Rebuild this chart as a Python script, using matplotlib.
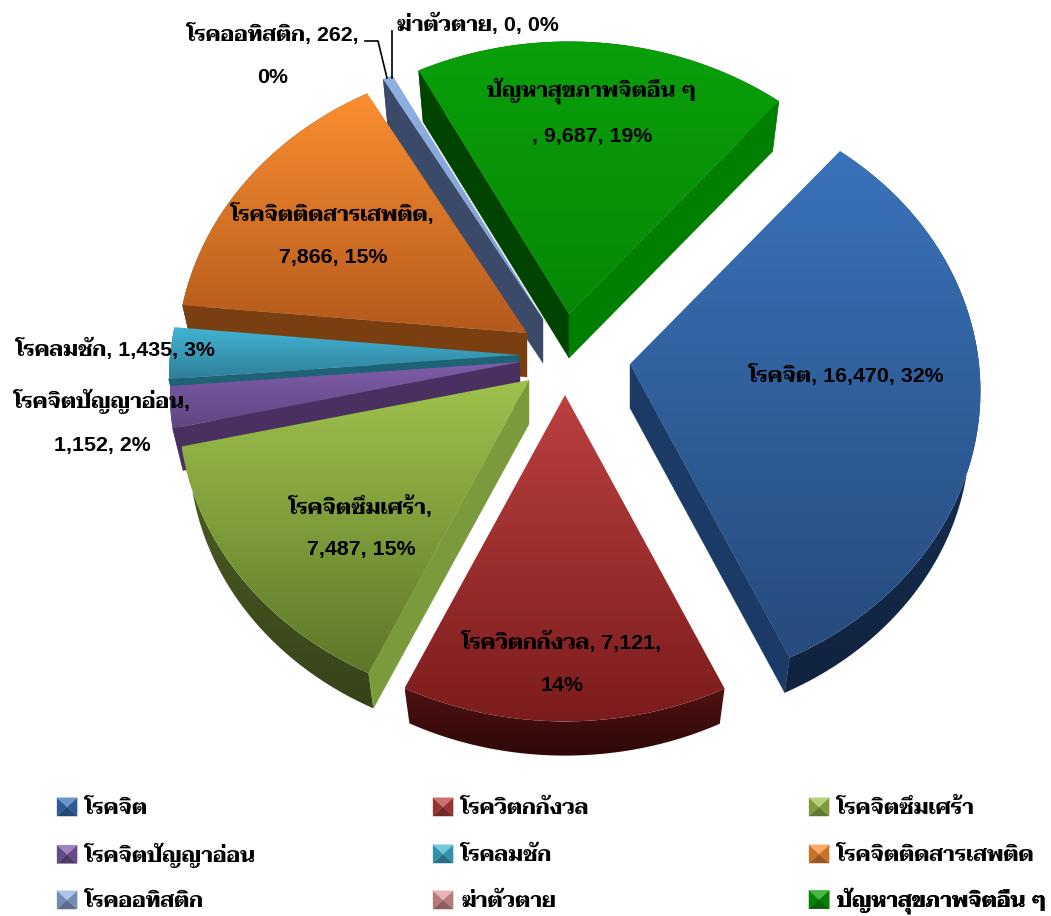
import numpy as np
import matplotlib
matplotlib.use('Agg')
import matplotlib.pyplot as plt
from matplotlib.colors import to_rgb
from matplotlib.patches import Polygon, Patch
from matplotlib.legend_handler import HandlerBase

plt.rcParams['font.family'] = ['Liberation Sans', 'Taviraj', 'Sarabun', 'Noto Sans Thai']

categories = ['โรคจิต', 'โรควิตกกังวล', 'โรคจิตซึมเศร้า', 'โรคจิตปัญญาอ่อน', 'โรคลมชัก',
              'โรคจิตติดสารเสพติด', 'โรคออทิสติก', 'ฆ่าตัวตาย', 'ปัญหาสุขภาพจิตอื่น ๆ']
values = [16470, 7121, 7487, 1152, 1435, 7866, 262, 0, 9687]

W, H = 1051, 916
RX, RY, K = 349.0, 297.0, 0.09
DEPTH, SIGMA = 44.0, 0.97
apex = [(630, 364), (565, 395), (529, 380), (520, 362), (519, 355),
        (527, 333), (543, 319), (543, 319), (569, 314)]
top_hi = ['#3a72ba', '#bb4040', '#9fc24c', '#7f5daa', '#42b4d4', '#fb8e30', '#8fb0e0', '#e09a98', '#0aa00a']
top_lo = ['#264b7c', '#7c1c1c', '#5e7729', '#604682', '#2f7f99', '#b45a1d', '#7f9fd0', '#c08080', '#068806']
side_hi = ['#1c3a66', '#501212', '#4f6024', '#4a3060', '#1d6275', '#7a3f10', '#3a4a68', '#888888', '#004400']
side_lo = ['#10233f', '#2e0808', '#36431a', '#38244a', '#154a58', '#5a2e0c', '#2c3a54', '#666666', '#007f00']
face_start = [None, None, '#7a9a3c', '#4a3060', '#1d6275', '#7a3f10', '#3a4a68', None, '#004400']
face_end = ['#1c3a66', None, None, None, None, None, None, None, '#007f00']
draw_order = [8, 6, 5, 4, 3, 2, 1, 0]

labels = [('โรคจิต, 16,470, 32%', 847, 375),
          ('โรควิตกกังวล, 7,121,\n14%', 562, 663),
          ('โรคจิตซึมเศร้า,\n7,487, 15%', 361, 527),
          ('โรคจิตปัญญาอ่อน,\n1,152, 2%', 102, 422),
          ('โรคลมชัก, 1,435, 3%', 116, 349),
          ('โรคจิตติดสารเสพติด,\n7,866, 15%', 333, 235),
          ('โรคออทิสติก, 262,\n0%', 273, 55),
          ('ฆ่าตัวตาย, 0, 0%', 478, 24),
          ('ปัญหาสุขภาพจิตอื่น ๆ\n, 9,687, 19%', 592, 112)]
FONT = 15.4
LINESP = 2.5
legend_rows = [808, 855, 901]
legend_cols = [57, 433, 809]

fig = plt.figure(figsize=(W / 100, H / 100), dpi=100)
ax = fig.add_axes([0, 0, 1, 1])
wedges, _ = ax.pie(values, startangle=50, counterclock=False)
angles = [(90 - w.theta2, 90 - w.theta1) for w in wedges]
for w in wedges:
    w.remove()


def project(a, th):
    th = np.radians(th)
    f = 1 / (1 + K * np.cos(th))
    return np.column_stack([a[0] + RX * np.sin(th) * f, a[1] - RY * np.cos(th) * f])


def gradient(poly, c0, c1, z):
    xmin, ymin = poly.min(axis=0)
    xmax, ymax = poly.max(axis=0)
    t = np.linspace(0, 1, 256)[:, None, None]
    g = (1 - t) * np.array(to_rgb(c0))[None, None, :] + t * np.array(to_rgb(c1))[None, None, :]
    im = ax.imshow(g, extent=(xmin, xmax, ymax, ymin), origin='upper', aspect='auto',
                   interpolation='bilinear', zorder=z)
    p = Polygon(poly, closed=True, fc='none', ec='none', zorder=z)
    ax.add_patch(p)
    im.set_clip_path(p)


z = 1
for i in draw_order:
    th1, th2 = angles[i]
    if th2 - th1 <= 0:
        continue
    a = np.array(apex[i], float)
    arc = project(a, np.linspace(th1, th2, 240))
    a_b = a + (0, DEPTH)
    arc_b = a_b + SIGMA * (arc - a)
    gradient(np.vstack([arc, arc_b[::-1]]), side_hi[i], side_lo[i], z)
    z += 1
    for edge_top, edge_bot, col in ((arc[0], arc_b[0], face_start[i]), (arc[-1], arc_b[-1], face_end[i])):
        if col is not None:
            ax.add_patch(Polygon([a, edge_top, edge_bot, a_b], closed=True, fc=col, ec=col, lw=0.3, zorder=z))
    z += 1
    gradient(np.vstack([a, arc]), top_hi[i], top_lo[i], z)
    z += 1

ax.plot([365, 378, 387], [41, 41, 78], color='black', lw=1.2, zorder=z)
ax.plot([392, 392], [31, 78], color='black', lw=1.2, zorder=z)
for text, x, y in labels:
    ax.text(x, y, text, ha='center', va='center', fontsize=FONT, fontweight='bold',
            linespacing=LINESP, color='black', zorder=z + 1)


class BevelHandler(HandlerBase):
    def create_artists(self, legend, orig, xd, yd, width, height, fontsize, trans):
        base = np.array(to_rgb(orig.get_facecolor()))
        x0, y0, x1, y1 = -xd, -yd, -xd + width, -yd + height
        cx, cy = (x0 + x1) / 2, (y0 + y1) / 2
        light = base + (1 - base) * 0.25
        dark = base * 0.62
        mid = base * 0.8
        tris = [([x0, y0], [x1, y0], [cx, cy], dark),
                ([x0, y0], [x0, y1], [cx, cy], mid),
                ([x1, y0], [x1, y1], [cx, cy], mid),
                ([x0, y1], [x1, y1], [cx, cy], light)]
        return [Polygon(t[:3], closed=True, fc=t[3], ec=t[3], lw=0.2, transform=trans) for t in tris]


for j, name in enumerate(categories):
    row, col = j // 3, j % 3
    leg = ax.legend([Patch(facecolor=top_hi[j])], [name], loc='center left',
                    bbox_to_anchor=(legend_cols[col] / W, 1 - legend_rows[row] / H),
                    bbox_transform=fig.transFigure, frameon=False,
                    handlelength=0.94, handleheight=0.94, handletextpad=0.38,
                    borderpad=0, borderaxespad=0, prop={'size': FONT, 'weight': 'bold'},
                    handler_map={Patch: BevelHandler()})
    ax.add_artist(leg)

ax.set_aspect('auto')
ax.set_xlim(0, W)
ax.set_ylim(H, 0)
ax.axis('off')
fig.savefig('out.png', dpi=100)
